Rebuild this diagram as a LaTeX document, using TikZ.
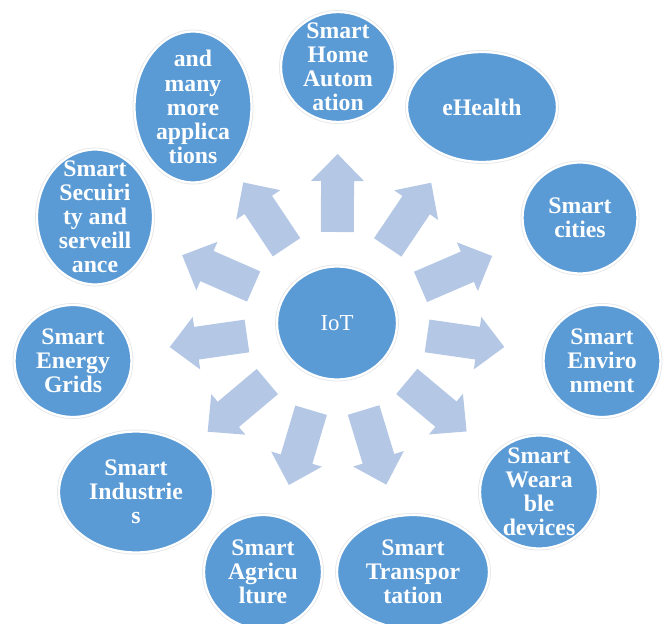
\documentclass[tikz,border=0pt]{standalone}
\usepackage{fontspec}
\setmainfont{Liberation Serif}
\usetikzlibrary{shapes.geometric,calc}

\definecolor{bubbleblue}{HTML}{5B9BD5}
\definecolor{arrowblue}{HTML}{B4C8E6}

\begin{document}
\begin{tikzpicture}[
  x=0.02cm, y=-0.02cm,
  bubble/.style={ellipse, fill=bubbleblue, draw=white, line width=1.3pt,
    preaction={draw=black!10, line width=2.2pt},
    minimum width=2.3cm, minimum height=2.22cm, inner sep=0pt},
  bubbletext/.style={text=white, align=center, inner sep=0pt,
    font=\fontsize{13.5}{13.7}\selectfont\bfseries},
  bigarrow/.style={fill=arrowblue}
]
\useasboundingbox (0,0) rectangle (665,624);

% centre
\node[bubble, minimum width=2.4cm, minimum height=2.26cm] (iot) at (337,323) {};
\node[text=white, font=\fontsize{13}{14}\selectfont] (iottext) at (iot) {IoT};

% applications
\node[bubble, minimum width=2.28cm, minimum height=2.2cm] (home) at (338,67) {};
\node[bubbletext] (hometext) at (home) {Smart\\Home\\Autom\\ation};

\node[bubble, minimum width=3cm, minimum height=2.2cm] (health) at (482,107) {};
\node[bubbletext] (healthtext) at (health) {eHealth};

\node[bubble] (cities) at (580,218) {};
\node[bubbletext] (citiestext) at (cities) {Smart\\cities};

\node[bubble, minimum width=2.34cm, minimum height=2.24cm] (env) at (602,361) {};
\node[bubbletext] (envtext) at (env) {Smart\\Enviro\\nment};

\node[bubble, minimum width=2.36cm, minimum height=2.26cm] (wear) at (539,492) {};
\node[bubbletext] (weartext) at (wear) {Smart\\Weara\\ble\\devices};

\node[bubble, minimum width=3.04cm, minimum height=2.28cm] (trans) at (413,572) {};
\node[bubbletext] (transtext) at (trans) {Smart\\Transpor\\tation};

\node[bubble, minimum width=2.36cm, minimum height=2.28cm] (agri) at (263,572) {};
\node[bubbletext] (agritext) at (agri) {Smart\\Agricu\\lture};

\node[bubble, minimum width=3.08cm, minimum height=2.42cm] (ind) at (136,492) {};
\node[bubbletext] (indtext) at (ind) {Smart\\Industrie\\s};

\node[bubble, minimum width=2.34cm, minimum height=2.24cm] (energy) at (73,361) {};
\node[bubbletext] (energytext) at (energy) {Smart\\Energy\\Grids};

\node[bubble, minimum width=2.32cm, minimum height=2.7cm] (sec) at (95,217) {};
\node[bubbletext] (sectext) at (sec) {Smart\\Secuiri\\ty and\\serveill\\ance};

\node[bubble, minimum width=2.34cm, minimum height=3.02cm] (more) at (193,107) {};
\node[bubbletext] (moretext) at (more) {and\\many\\more\\applica\\tions};

% block arrows from the centre
\foreach \t in {home,health,cities,env,wear,trans,agri,ind,energy,sec,more} {
  \path let \p1=($(\t)-(iot)$) in \pgfextra{\pgfmathsetmacro\ang{atan2(\y1,\x1)}\xdef\arrang{\ang}};
  \fill[bigarrow, shift={(iot)}, rotate=\arrang]
    (91,-16.5) -- (142,-16.5) -- (142,-26.5) -- (169,0) -- (142,26.5) -- (142,16.5) -- (91,16.5) -- cycle;
}

\end{tikzpicture}
\end{document}
